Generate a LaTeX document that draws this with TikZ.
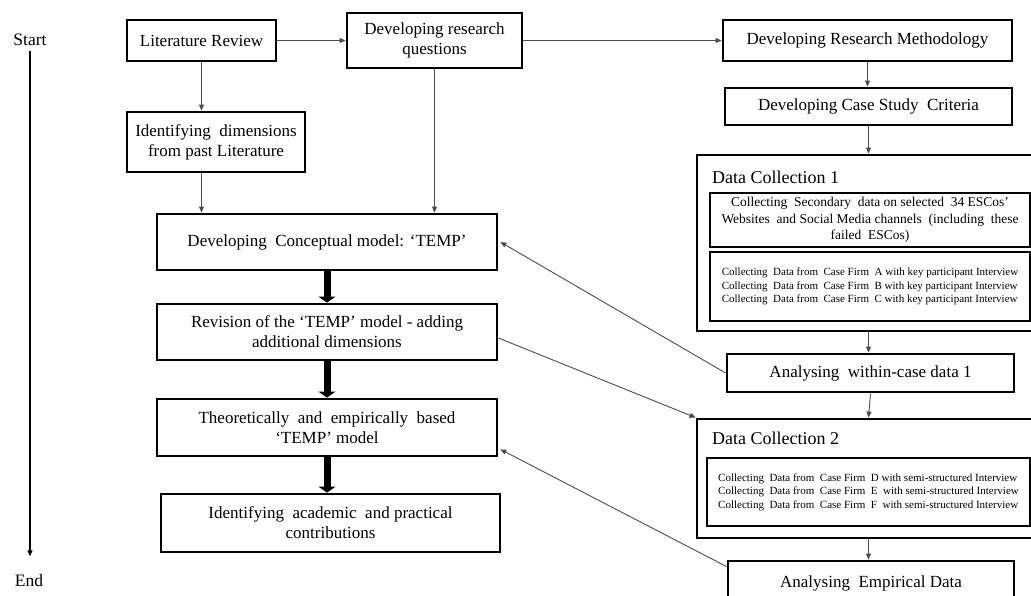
\documentclass[tikz,border=0pt]{standalone}
\usepackage{fontspec}
\setmainfont{Liberation Serif}
\usetikzlibrary{arrows.meta,calc}
\tikzset{
  stage/.style ={draw, line width=2.8pt, align=center, inner sep=2pt,
                 font=\fontsize{17}{20}\selectfont},
  panel/.style ={draw, line width=2.8pt, inner sep=0pt},
  subpanel/.style={draw, line width=2.8pt, inner sep=2pt},
  span/.style 2 args={minimum width=#1pt, minimum height=#2pt},
  title/.style ={anchor=west, inner sep=0pt, font=\fontsize{18}{21}\selectfont},
  % thin links between stages
  flow/.style  ={draw=black!70, line width=0.9pt,
                 -{Triangle[length=6pt,width=5pt]}},
  % the main line of the model
  bigflow/.style={draw=black, line width=7pt,
                 -{Triangle[length=6pt,width=17pt]}},
  timeline/.style={draw=black, line width=1.2pt,
                 -{Triangle[length=6pt,width=5pt]}},
}

\begin{document}
\begin{tikzpicture}[x=1pt,y=-1pt]
\useasboundingbox (0,0) rectangle (1031,596);
% time axis
\node[font=\fontsize{17.5}{20}\selectfont] (start) at (30,40) {Start};
\node[font=\fontsize{17.5}{20}\selectfont] (end) at (29,581) {End};
\draw[timeline, shorten <=2pt, shorten >=15pt] (start.south) -- (start.south |- end.north);
% left column
\node[stage,span={149}{41}]  (lit)     at (201.5,40.5) {Literature Review};
\node[stage,span={175}{55}]  (rq)      at (434.5,40.5) {Developing research\\questions};
\node[stage,span={178}{60}]  (dims)    at (216,142)    {Identifying\ \ dimensions\\from past Literature};
\node[stage,span={340}{56}]  (concept) at (327,242)    {Developing\ \ Conceptual model: `TEMP'};
\node[stage,span={340}{56}]  (revise)  at (327,332)    {Revision of the `TEMP' model - adding\\additional dimensions};
\node[stage,span={340}{57}]  (theory)  at (327,427.5)  {Theoretically\ \ and\ \ empirically\ \ based\\`TEMP' model};
\node[stage,span={339}{58}]  (contrib) at (330.5,523)  {Identifying\ \ academic\ \ and practical\\contributions};
% right column
\node[stage,span={289}{41}]  (method)   at (867.5,40.5) {Developing Research Methodology};
\node[stage,span={287}{37}]  (criteria) at (868.5,106.5) {Developing Case Study\ \ Criteria};
\node[panel,span={343}{176}] (dc1)      at (868.5,243) {};
\node[title] (dc1title) at (712,177) {Data Collection 1};
\node[subpanel,span={320}{54},align=center,font=\fontsize{13.5}{16.5}\selectfont] (dc1a) at (870,220)
  {Collecting\ \ Secondary\ \ data on selected\ \ 34 ESCos'\\Websites\ \ and Social Media channels\ \ (including\ \ these\\failed\ \ ESCos)};
\node[subpanel,span={320}{69},align=left,font=\fontsize{11}{13.5}\selectfont] (dc1b) at (870,286.5)
  {Collecting\ \ Data from\ \ Case Firm\ \ A with key participant Interview\\
   Collecting\ \ Data from\ \ Case Firm\ \ B with key participant Interview\\
   Collecting\ \ Data from\ \ Case Firm\ \ C with key participant Interview};
\node[stage,span={287}{38}]  (within)   at (870.5,373) {Analysing\ \ within-case data 1};
\node[panel,span={343}{119}] (dc2)      at (868.5,478.5) {};
\node[title] (dc2title) at (712,438) {Data Collection 2};
\node[subpanel,span={323}{68},align=left,font=\fontsize{11}{13.5}\selectfont] (dc2a) at (868.5,492)
  {Collecting\ \ Data from\ \ Case Firm\ \ D with semi-structured Interview\\
   Collecting\ \ Data from\ \ Case Firm\ \ E\ \ with semi-structured Interview\\
   Collecting\ \ Data from\ \ Case Firm\ \ F\ \ with semi-structured Interview};
\node[stage,span={286}{44}]  (empirical) at (871,583) {Analysing\ \ Empirical Data};
% links
\draw[flow] (lit.east) -- (rq.west);
\draw[flow] (rq.east) -- (method.west);
\draw[flow] (lit.south) -- (lit.south |- dims.north);
\draw[flow] (lit.south |- dims.south) -- (lit.south |- concept.north);
\draw[flow] (rq.south) -- (rq.south |- concept.north);
\draw[flow] (method.south) -- (method.south |- criteria.north);
\draw[flow] (criteria.south) -- (criteria.south |- dc1.north);
\draw[flow] (dc1.south) -- (dc1.south |- within.north);
\draw[flow] (within.south) -- (dc2.north);
\draw[flow] (dc2.south) -- (dc2.south |- empirical.north);
\draw[bigflow] (concept.south) -- (revise.north);
\draw[bigflow] (revise.south) -- (theory.north);
\draw[bigflow] (theory.south) -- (theory.south |- contrib.north);
% feedback between the columns
\draw[flow] (within.west) -- ([xshift=2pt]concept.east);
\draw[flow] ([yshift=-6pt]revise.east) -- (dc2.north west);
\draw[flow] ([yshift=-7pt]empirical.north west) -- ([xshift=2pt,yshift=8pt]theory.south east);
\end{tikzpicture}
\end{document}
